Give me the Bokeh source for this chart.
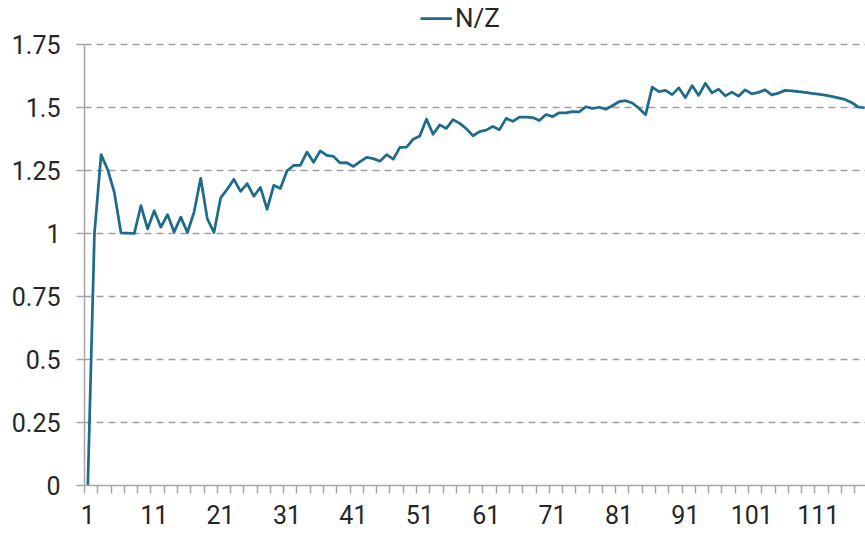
from bokeh.plotting import figure
from bokeh.models import Range1d, FixedTicker, Legend, LegendItem
from bokeh.embed import file_html
from bokeh.resources import INLINE

# Atomic number Z
z_values = list(range(1, 119))
# N/Z ratio
nz_values = [
    0.000, 1.001, 1.313, 1.253, 1.162, 1.002, 1.001, 1.000, 1.111, 1.018,
    1.090, 1.025, 1.075, 1.006, 1.065, 1.004, 1.085, 1.219, 1.058, 1.004,
    1.141, 1.176, 1.215, 1.167, 1.198, 1.148, 1.183, 1.096, 1.191, 1.179,
    1.249, 1.270, 1.270, 1.323, 1.283, 1.328, 1.310, 1.306, 1.280, 1.281,
    1.266, 1.285, 1.302, 1.297, 1.287, 1.313, 1.295, 1.342, 1.343, 1.374,
    1.387, 1.454, 1.394, 1.431, 1.417, 1.452, 1.437, 1.416, 1.388, 1.404,
    1.410, 1.425, 1.412, 1.457, 1.445, 1.462, 1.462, 1.460, 1.448, 1.472,
    1.464, 1.479, 1.479, 1.484, 1.483, 1.503, 1.496, 1.501, 1.493, 1.507,
    1.523, 1.527, 1.518, 1.497, 1.471, 1.581, 1.563, 1.568, 1.551, 1.578,
    1.539, 1.587, 1.548, 1.596, 1.558, 1.573, 1.546, 1.561, 1.545, 1.570,
    1.554, 1.560, 1.570, 1.550, 1.557, 1.568, 1.566, 1.563, 1.560, 1.556,
    1.553, 1.549, 1.544, 1.538, 1.532, 1.520, 1.502, 1.499,
]
x_tick_values = [1, 11, 21, 31, 41, 51, 61, 71, 81, 91, 101, 111]
y_tick_values = [0, 0.25, 0.5, 0.75, 1, 1.25, 1.5, 1.75]
y_tick_labels = ["0", "0.25", "0.5", "0.75", "1", "1.25", "1.5", "1.75"]
series_name = "N/Z"

FONT = "Roboto"
TEXT = "#262626"
AXIS = "#a6a6a6"
LINE = "#1f6b8c"

p = figure(
    frame_width=781, frame_height=485,
    min_border_left=84, min_border_right=0, min_border_top=0, min_border_bottom=47,
    x_range=Range1d(0.5, 118.12), y_range=Range1d(0, 485 / 252),
    output_backend="svg", toolbar_location=None,
)
p.outline_line_color = None
p.background_fill_color = "white"
p.border_fill_color = "white"

r = p.line(z_values, nz_values, line_color=LINE, line_width=2.75, line_join="round")

# x axis
minor = [0.5 + 2 * i for i in range(60)]
p.xaxis.ticker = FixedTicker(ticks=x_tick_values, minor_ticks=minor)
p.xaxis.major_tick_out = 0
p.xaxis.major_tick_in = 0
p.xaxis.minor_tick_out = 8
p.xaxis.minor_tick_in = 0
p.xaxis.minor_tick_line_color = AXIS
p.xaxis.minor_tick_line_width = 1.5
p.xaxis.axis_line_color = AXIS
p.xaxis.axis_line_width = 1.5
p.xaxis.major_label_text_font = FONT
p.xaxis.major_label_text_font_size = "25px"
p.xaxis.major_label_text_color = TEXT
p.xaxis.major_label_standoff = 11

# y axis
p.yaxis.ticker = FixedTicker(ticks=y_tick_values)
p.yaxis.bounds = (0, 1.75)
p.yaxis.major_label_overrides = {v: s for v, s in zip(y_tick_values, y_tick_labels)}
p.yaxis.major_tick_out = 8
p.yaxis.major_tick_in = 0
p.yaxis.minor_tick_line_color = None
p.yaxis.major_tick_line_color = AXIS
p.yaxis.major_tick_line_width = 1.5
p.yaxis.axis_line_color = AXIS
p.yaxis.axis_line_width = 1.5
p.yaxis.major_label_text_font = FONT
p.yaxis.major_label_text_font_size = "25px"
p.yaxis.major_label_text_color = TEXT
p.yaxis.major_label_standoff = 16

p.xgrid.grid_line_color = None
p.ygrid.ticker = FixedTicker(ticks=y_tick_values[1:])
p.ygrid.grid_line_color = "#a0a0a0"
p.ygrid.grid_line_width = 1.5
p.ygrid.grid_line_dash = "7 5"

legend = Legend(
    items=[LegendItem(label=series_name, renderers=[r])],
    location=(336, 452), orientation="horizontal",
    background_fill_alpha=0, border_line_color=None,
    padding=0, margin=0, spacing=0,
    glyph_width=32, glyph_height=28, label_height=28, label_standoff=3,
    label_text_font=FONT, label_text_font_size="26px", label_text_color=TEXT,
)
p.add_layout(legend, "center")

open("out.html", "w").write(file_html(p, INLINE))
